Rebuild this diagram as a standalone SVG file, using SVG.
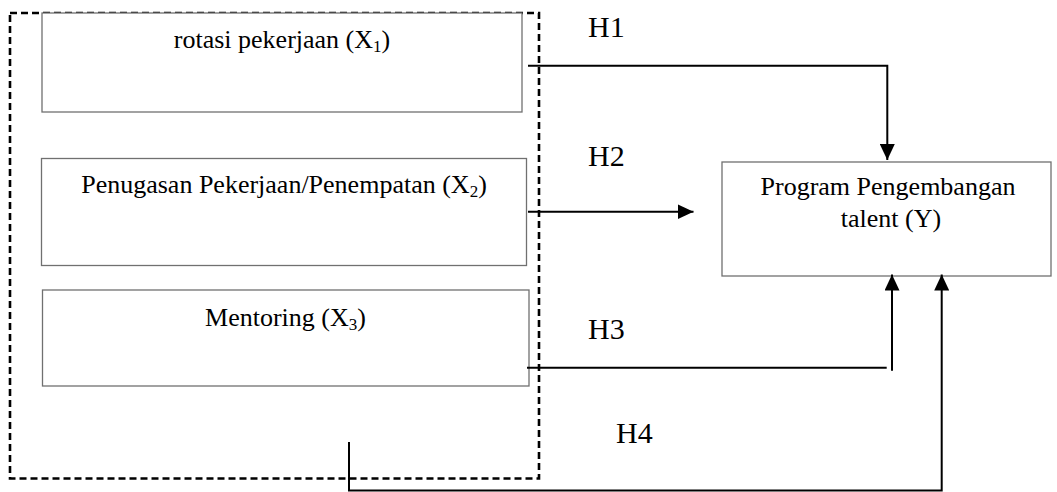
<svg xmlns="http://www.w3.org/2000/svg" width="1057" height="492" viewBox="0 0 1057 492">
<style>
.node rect{fill:#fff;stroke:#707070;stroke-width:1.3}
.t{font-family:"Liberation Serif","Times New Roman",serif;font-size:26px;fill:#000;text-anchor:middle}
.h{font-family:"Liberation Serif","Times New Roman",serif;font-size:30px;fill:#000}
.c{fill:none;stroke:#000;stroke-width:2}
.dash{fill:none;stroke:#000;stroke-width:2.6;stroke-dasharray:7 4}
</style>
<defs>
<marker id="arr" markerUnits="userSpaceOnUse" markerWidth="16" markerHeight="15" refX="16" refY="7.5" orient="auto" viewBox="0 0 16 15">
<path d="M0,0 L16,7.5 L0,15 z" fill="#000"/>
</marker>
</defs>
<rect class="dash" x="10" y="13" width="529" height="465.5"/>
<g id="x1" class="node">
<rect x="42" y="13" width="480" height="99"/>
<text class="t" x="282" y="48">rotasi pekerjaan (X<tspan font-size="17" dy="4">1</tspan><tspan dy="-4">)</tspan></text>
</g>
<g id="x2" class="node">
<rect x="41.5" y="158.5" width="485" height="107"/>
<text class="t" x="284" y="193">Penugasan Pekerjaan/Penempatan (X<tspan font-size="17" dy="4">2</tspan><tspan dy="-4">)</tspan></text>
</g>
<g id="x3" class="node">
<rect x="42.5" y="290" width="486.5" height="96"/>
<text class="t" x="285.5" y="326">Mentoring (X<tspan font-size="17" dy="4">3</tspan><tspan dy="-4">)</tspan></text>
</g>
<g id="y" class="node">
<rect x="722" y="162" width="329" height="114"/>
<text class="t" x="888" y="195">Program Pengembangan</text>
<text class="t" x="891" y="227">talent (Y)</text>
</g>
<g id="connectors">
<path class="c" d="M528 65.7 H887.3 V160" marker-end="url(#arr)"/>
<path class="c" d="M528 211.7 H693.5" marker-end="url(#arr)"/>
<path class="c" d="M527 367.7 H886.7"/>
<path class="c" d="M892 370.7 V274.5" marker-end="url(#arr)"/>
<path class="c" d="M349 442 V490.5 H941.7 V274.5" marker-end="url(#arr)"/>
</g>
<g id="labels">
<text class="h" x="588" y="37">H1</text>
<text class="h" x="588" y="166">H2</text>
<text class="h" x="588" y="339">H3</text>
<text class="h" x="616" y="443">H4</text>
</g>
</svg>
